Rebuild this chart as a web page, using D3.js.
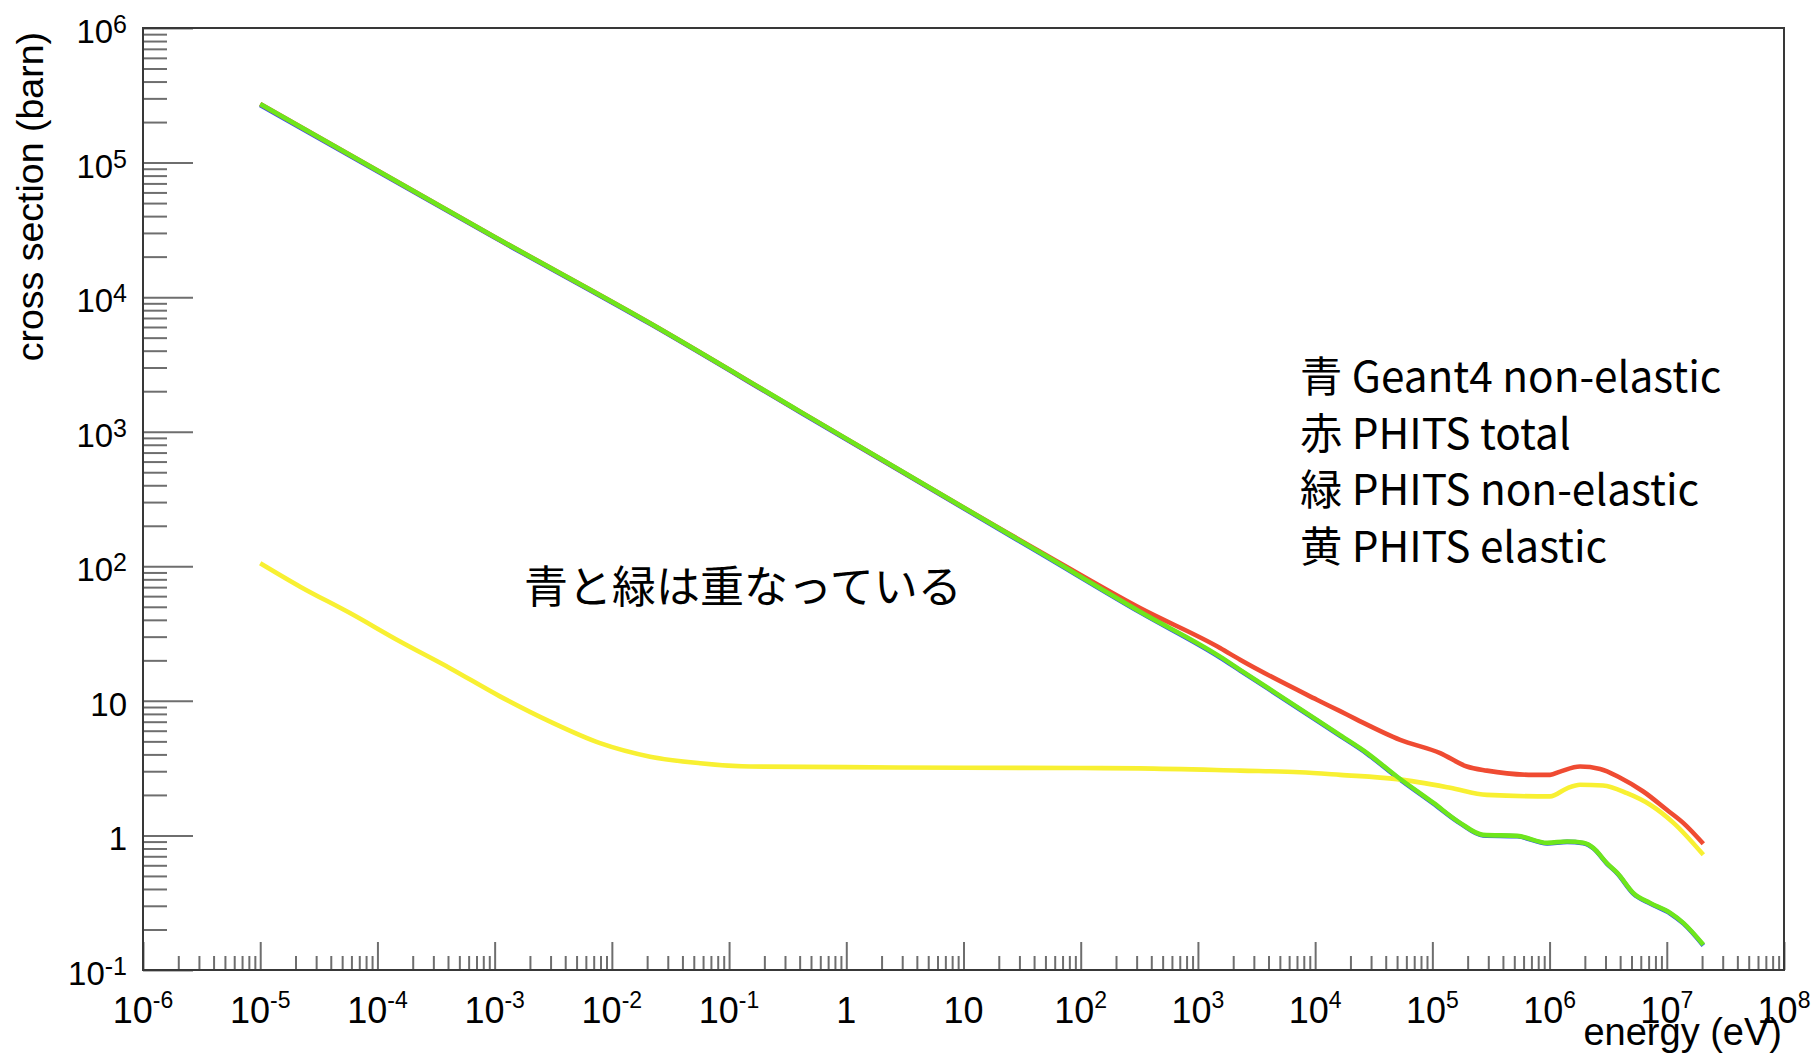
<!DOCTYPE html>
<html>
<head>
<meta charset="utf-8">
<script src="https://cdn.jsdelivr.net/npm/d3@7"></script>
<style>
  body { margin: 0; background: #fff; }
  svg { display: block; }
</style>
</head>
<body>
<svg id="chart" width="1813" height="1054"></svg>
<script>
// Neutron cross sections (barn) as a function of energy (eV)

// Geant4 non-elastic
const geant4NonElasticE = [1e-5, 1e-3, 0.0212, 0.404, 45.1, 321, 1545, 2290, 10350, 16330, 27600, 49800, 101600, 172600, 271000, 530000, 955000, 1.41e6, 1.94e6, 2.37e6, 3.08e6, 3.78e6, 5.2e6, 7.21e6, 1.07e7, 1.39e7, 2.05e7];
const geant4NonElastic  = [268000, 27700, 6330, 1395, 125, 45.5, 21.0, 16.8, 7.15, 5.50, 4.06, 2.71, 1.73, 1.23, 1.0, 0.985, 0.872, 0.895, 0.874, 0.80, 0.618, 0.522, 0.368, 0.312, 0.263, 0.221, 0.152];

// PHITS total
const phitsTotalE = [1e-5, 1e-3, 0.0212, 0.404, 45.1, 321, 1545, 2290, 10350, 16330, 22700, 53100, 116700, 196800, 291700, 724000, 1.01e6, 1.23e6, 1.82e6, 2.70e6, 4.0e6, 6.3e6, 1.0e7, 1.38e7, 2.05e7];
const phitsTotal  = [272000, 28000, 6400, 1410, 128.3, 48.9, 24.7, 20.2, 10.2, 8.38, 7.25, 5.13, 4.09, 3.25, 3.03, 2.82, 2.82, 2.98, 3.25, 3.12, 2.68, 2.12, 1.55, 1.24, 0.867];

// PHITS elastic
const phitsElasticE = [1e-5, 2.19e-5, 5.83e-5, 1.56e-4, 4.16e-4, 1.11e-3, 2.97e-3, 7.93e-3, 0.0212, 0.0566, 0.151, 1, 10, 100, 316, 2290, 7410, 16330, 50100, 142000, 291700, 1.01e6, 1.41e6, 1.82e6, 2.86e6, 4.57e6, 7.21e6, 1.14e7, 2.05e7];
const phitsElastic  = [105.4, 70.6, 44.9, 27.6, 17.5, 10.8, 7.01, 4.85, 3.85, 3.44, 3.25, 3.22, 3.18, 3.17, 3.15, 3.03, 2.95, 2.82, 2.62, 2.26, 2.0, 1.95, 2.24, 2.38, 2.35, 2.06, 1.69, 1.24, 0.718];

// PHITS non-elastic
const phitsNonElasticE = [1e-5, 1e-3, 0.0212, 0.404, 45.1, 321, 1545, 2290, 10350, 16330, 27600, 49800, 101600, 172600, 271000, 530000, 955000, 1.41e6, 1.94e6, 2.37e6, 3.08e6, 3.78e6, 5.2e6, 7.21e6, 1.07e7, 1.39e7, 2.05e7];
const phitsNonElastic  = [272000, 28000, 6400, 1410, 126.5, 46.0, 21.3, 17.0, 7.23, 5.56, 4.11, 2.74, 1.75, 1.24, 1.01, 0.993, 0.881, 0.902, 0.881, 0.805, 0.622, 0.527, 0.372, 0.315, 0.266, 0.223, 0.154];

// Axis decades and labels
const xExponents = [-6, -5, -4, -3, -2, -1, 0, 1, 2, 3, 4, 5, 6, 7, 8];
const yExponents = [-1, 0, 1, 2, 3, 4, 5, 6];

// Legend
const legendMarks = ["青", "赤", "緑", "黄"];
const legendNames = ["Geant4 non-elastic", "PHITS total", "PHITS non-elastic", "PHITS elastic"];
const noteText = "青と緑は重なっている";

const xTitle = "energy (eV)";
const yTitle = "cross section (barn)";

const frame = { left: 143, right: 1784, top: 28, bottom: 970 };
const svg = d3.select("#chart");

const x = d3.scaleLog().domain([1e-6, 1e8]).range([frame.left, frame.right]);
const y = d3.scaleLog().domain([1e-1, 1e6]).range([frame.bottom, frame.top]);

function minorTicks(exps) {
  const out = [];
  for (let i = 0; i < exps.length - 1; i++) {
    for (let m = 2; m <= 9; m++) out.push(m * Math.pow(10, exps[i]));
  }
  return out;
}
const xMajor = xExponents.map(e => Math.pow(10, e));
const yMajor = yExponents.map(e => Math.pow(10, e));

const tickColor = "#6e6e6e";

function styleTicks(g) {
  g.select(".domain").remove();
  g.selectAll(".tick line").attr("stroke", tickColor).attr("stroke-width", 2);
  g.selectAll(".tick text").remove();
}

// x ticks (pointing up into the frame)
svg.append("g").attr("transform", `translate(0,${frame.bottom})`)
  .call(d3.axisTop(x).tickValues(minorTicks(xExponents)).tickSize(14).tickFormat(""))
  .call(styleTicks);
svg.append("g").attr("transform", `translate(0,${frame.bottom})`)
  .call(d3.axisTop(x).tickValues(xMajor).tickSize(28).tickFormat(""))
  .call(styleTicks);

// y ticks (pointing right into the frame)
svg.append("g").attr("transform", `translate(${frame.left},0)`)
  .call(d3.axisRight(y).tickValues(minorTicks(yExponents)).tickSize(24).tickFormat(""))
  .call(styleTicks);
svg.append("g").attr("transform", `translate(${frame.left},0)`)
  .call(d3.axisRight(y).tickValues(yMajor).tickSize(50).tickFormat(""))
  .call(styleTicks);

// frame
svg.append("rect")
  .attr("x", frame.left).attr("y", frame.top)
  .attr("width", frame.right - frame.left).attr("height", frame.bottom - frame.top)
  .attr("fill", "none").attr("stroke", "#383838").attr("stroke-width", 2);

// curves
const series = [
  { e: geant4NonElasticE, s: geant4NonElastic, color: "#2f54f0" },
  { e: phitsTotalE, s: phitsTotal, color: "#ef4b32" },
  { e: phitsElasticE, s: phitsElastic, color: "#f8f032" },
  { e: phitsNonElasticE, s: phitsNonElastic, color: "#6ee61c" }
];
const line = d3.line()
  .x(d => x(d[0]))
  .y(d => y(d[1]))
  .curve(d3.curveMonotoneX);

svg.append("g").selectAll("path")
  .data(series)
  .join("path")
  .attr("d", d => line(d.e.map((v, i) => [v, d.s[i]])))
  .attr("fill", "none")
  .attr("stroke", d => d.color)
  .attr("stroke-width", 4.6)
  .attr("stroke-linejoin", "round");

// tick labels with superscript exponents
const labelFont = "'Liberation Sans', Arial, Helvetica, sans-serif";

function powerLabel(sel, exp, supSize, supDy) {
  if (exp === 0) { sel.text("1"); return; }
  if (exp === 1) { sel.text("10"); return; }
  sel.append("tspan").text("10");
  sel.append("tspan").attr("font-size", supSize).attr("dy", supDy).text(String(exp));
}

svg.append("g").selectAll("text")
  .data(xExponents)
  .join("text")
  .attr("x", d => x(Math.pow(10, d)))
  .attr("y", 1023)
  .attr("text-anchor", "middle")
  .attr("font-family", labelFont)
  .attr("font-size", 36)
  .attr("fill", "#000")
  .each(function (d) { powerLabel(d3.select(this), d, 23, -15); });

svg.append("g").selectAll("text")
  .data(yExponents)
  .join("text")
  .attr("x", 127)
  .attr("y", d => y(Math.pow(10, d)) + 15)
  .attr("text-anchor", "end")
  .attr("font-family", labelFont)
  .attr("font-size", 33)
  .attr("fill", "#000")
  .each(function (d) { powerLabel(d3.select(this), d, 25, -10); });

// axis titles
svg.append("text")
  .attr("x", 1782).attr("y", 1045)
  .attr("text-anchor", "end")
  .attr("font-family", labelFont)
  .attr("font-size", 38)
  .text(xTitle);

svg.append("text")
  .attr("transform", "translate(43,32) rotate(-90)")
  .attr("text-anchor", "end")
  .attr("font-family", labelFont)
  .attr("font-size", 37.5)
  .text(yTitle);

// legend
const cjkFont = "'Noto Sans CJK JP', 'Noto Sans', sans-serif";
const legend = svg.append("g").attr("font-family", cjkFont).attr("font-size", 42.3).attr("fill", "#000");
legendNames.forEach((name, i) => {
  const t = legend.append("text").attr("x", 1300).attr("y", 392 + i * 56.7);
  t.append("tspan").text(legendMarks[i]);
  t.append("tspan").text(" " + name);
});

// annotation
svg.append("text")
  .attr("x", 524).attr("y", 603)
  .attr("font-family", cjkFont)
  .attr("font-size", 44)
  .text(noteText);
</script>
</body>
</html>
